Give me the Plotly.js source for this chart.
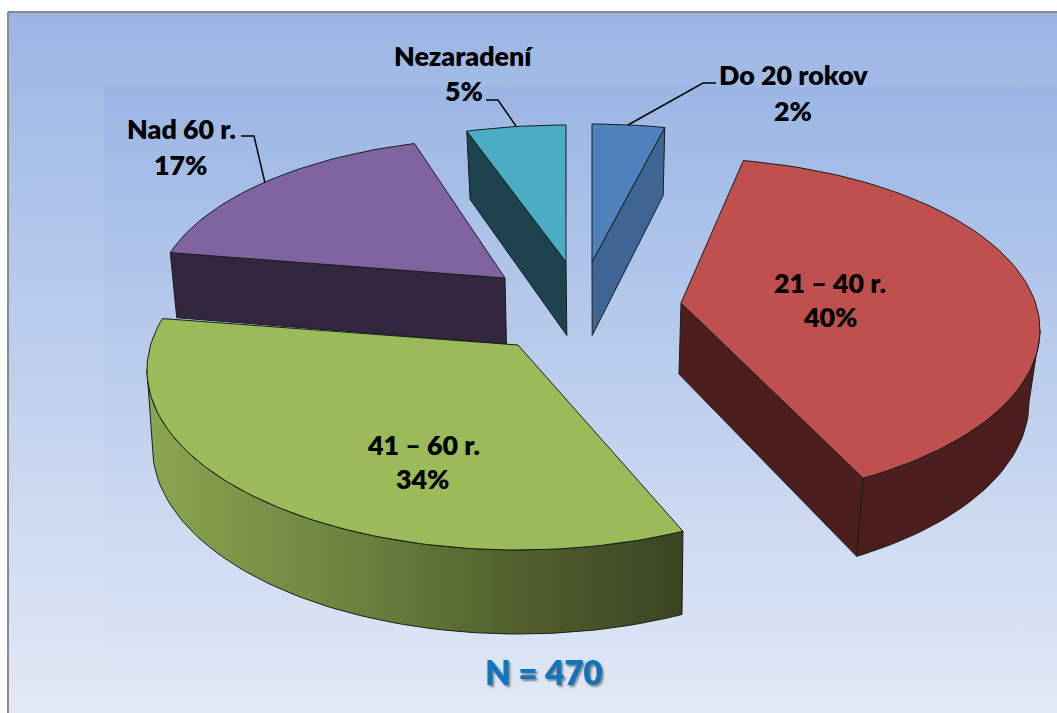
<!DOCTYPE html>
<html>
<head>
<meta charset="utf-8">
<script src="https://cdn.plot.ly/plotly-3.0.1.min.js"></script>
<style>html,body{margin:0;padding:0;background:#fff;overflow:hidden}</style>
</head>
<body>
<div id="chart" style="width:1057px;height:713px"></div>
<script>
// DATA
const categories = ["Do 20 rokov", "21 – 40 r.", "41 – 60 r.", "Nad 60 r.", "Nezaradení"];
const percents = [2, 40, 34, 17, 5];
// wedge sizes as they appear in the picture (degrees around the pie)
const drawnSweepDeg = [12, 139.5, 133, 58, 16];
const sampleNote = "N = 470";

// STYLE / LAYOUT of each wedge
const topColors  = ["#4f81bd", "#bf504d", "#9bbb59", "#8064a2", "#4bacc6"];
const sideColors = ["#3f6594", "#4c1e1e", null, "#32273f", "#1d444e"];
const tipX   = [592, 681, 518, 505, 566];
const tipY   = [262, 303, 345, 278, 262];
const radX   = [350, 359, 371, 350, 360];
const radY   = [160, 172, 180, 162, 159];
const lowerE = [22, 27, 25, 22, 22];
const rotate = [0, -2, 2.1, 2.5, 1.5];
const depthAdj = [1, -3, 0, -7, 1];
const shrink = [0.025, 0.025, 0.012, 0.015, 0.025];
const drawOrder = [3, 4, 0, 1, 2];
const labelX = [793, 830, 423, 181, 464];
const nameY  = [75, 283, 445, 129, 56];
const pctY   = [111, 317, 479, 165, 91];
const leaderX = [[716,703,628], null, null, [241,254,265], [486,498,516]];
const leaderY = [[83,83,125], null, null, [136,136,183], [100,100,126]];
const greenWall = [[0,"#8ba550"],[0.35,"#6f863f"],[0.7,"#505f2d"],[1,"#3a4520"]];
const EDGE = "#1c1c1c";

// starting angle of every wedge, accumulated from the sweeps
const starts = [];
drawnSweepDeg.reduce((sum, s, i) => { starts[i] = sum; return sum + s; }, 0);

const rad = d => d * Math.PI / 180;
function topPt(i, deg) {
  return [tipX[i] + radX[i] * Math.sin(rad(deg)),
          tipY[i] + lowerE[i] - radY[i] * Math.cos(rad(deg))];
}
function drop(i, p) {
  return [p[0] + (600 - p[0]) * shrink[i], p[1] + 62 + 0.04 * p[1] + depthAdj[i]];
}
function arc(i, a, b) {
  const out = [], n = Math.max(4, Math.round(Math.abs(b - a) / 1.5));
  for (let k = 0; k <= n; k++) out.push(topPt(i, a + (b - a) * k / n));
  return out;
}
function poly(pts, color, extra) {
  return Object.assign({
    x: pts.map(p => p[0]).concat(pts[0][0]),
    y: pts.map(p => p[1]).concat(pts[0][1]),
    mode: "lines", fill: "toself", fillcolor: color,
    line: {color: EDGE, width: 1}, hoverinfo: "skip", showlegend: false
  }, extra || {});
}

const traces = [];
// backgrounds
function bgRect(x0, y0, x1, y1, c0, c1, lineOpts) {
  traces.push({
    x: [x0, x1, x1, x0, x0], y: [y0, y0, y1, y1, y0],
    mode: "lines", fill: "toself",
    fillgradient: {type: "vertical", start: y0, stop: y1, colorscale: [[0, c0], [1, c1]]},
    line: lineOpts, hoverinfo: "skip", showlegend: false
  });
}
bgRect(8, 12, 1060, 716, "#9bb6e4", "#e2e9f6", {color: "#8a8a8a", width: 2});
bgRect(104, 86, 1060, 716, "#9bb6e4", "#e2e9f6", {color: "rgba(0,0,0,0)", width: 0});

drawOrder.forEach(i => {
  const r = rotate[i];
  const a = starts[i] + r, b = a + drawnSweepDeg[i];
  const tip = [tipX[i], tipY[i]];
  const A = topPt(i, a), B = topPt(i, b);
  const wallExtra = i === 2 ? {fillgradient: {type: "horizontal", colorscale: greenWall}} : {};
  const wallColor = sideColors[i] || "#6f863f";
  // cut faces
  if (i === 0) traces.push(poly([tip, B, drop(i, B), drop(i, tip)], wallColor));
  if (i === 1) traces.push(poly([tip, B, drop(i, B), drop(i, tip)], wallColor));
  if (i === 3) traces.push(poly([tip, A, drop(i, A), drop(i, tip)], wallColor));
  if (i === 4) traces.push(poly([tip, A, drop(i, A), drop(i, tip)], wallColor));
  // outer rim
  const lo = Math.max(a, 90), hi = Math.min(b, 270);
  if (hi > lo) {
    const t = arc(i, lo, hi);
    traces.push(poly(t.concat(t.slice().reverse().map(p => drop(i, p))), wallColor, wallExtra));
  }
  // top
  traces.push(poly([tip].concat(arc(i, a, b)), topColors[i]));
});

// leader lines
categories.forEach((c, i) => {
  if (!leaderX[i]) return;
  traces.push({x: leaderX[i], y: leaderY[i], mode: "lines",
    line: {color: "#000", width: 1.5}, hoverinfo: "skip", showlegend: false});
});

const FONT = "Lato, 'Open Sans', sans-serif";
const annotations = [];
categories.forEach((c, i) => {
  const base = {xref: "x", yref: "y", x: labelX[i], showarrow: false,
    xanchor: "center", yanchor: "middle",
    font: {family: FONT, size: 26.8, color: "#000", weight: 800}};
  annotations.push(Object.assign({}, base, {y: nameY[i], text: c}));
  annotations.push(Object.assign({}, base, {y: pctY[i], text: percents[i] + "%"}));
});
annotations.push({xref: "x", yref: "y", x: 543, y: 672, showarrow: false,
  xanchor: "center", yanchor: "middle", text: sampleNote,
  font: {family: FONT, size: 33, color: "#0f75bd", weight: 800, shadow: "2px 2px 2px rgba(60,60,60,0.55)"}});

Plotly.newPlot("chart", traces, {
  width: 1057, height: 713,
  margin: {l: 0, r: 0, t: 0, b: 0, pad: 0},
  paper_bgcolor: "#ffffff", plot_bgcolor: "rgba(0,0,0,0)",
  showlegend: false,
  xaxis: {range: [0, 1057], visible: false, fixedrange: true},
  yaxis: {range: [713, 0], visible: false, fixedrange: true},
  annotations: annotations
}, {displayModeBar: false, staticPlot: true});
</script>
</body>
</html>
